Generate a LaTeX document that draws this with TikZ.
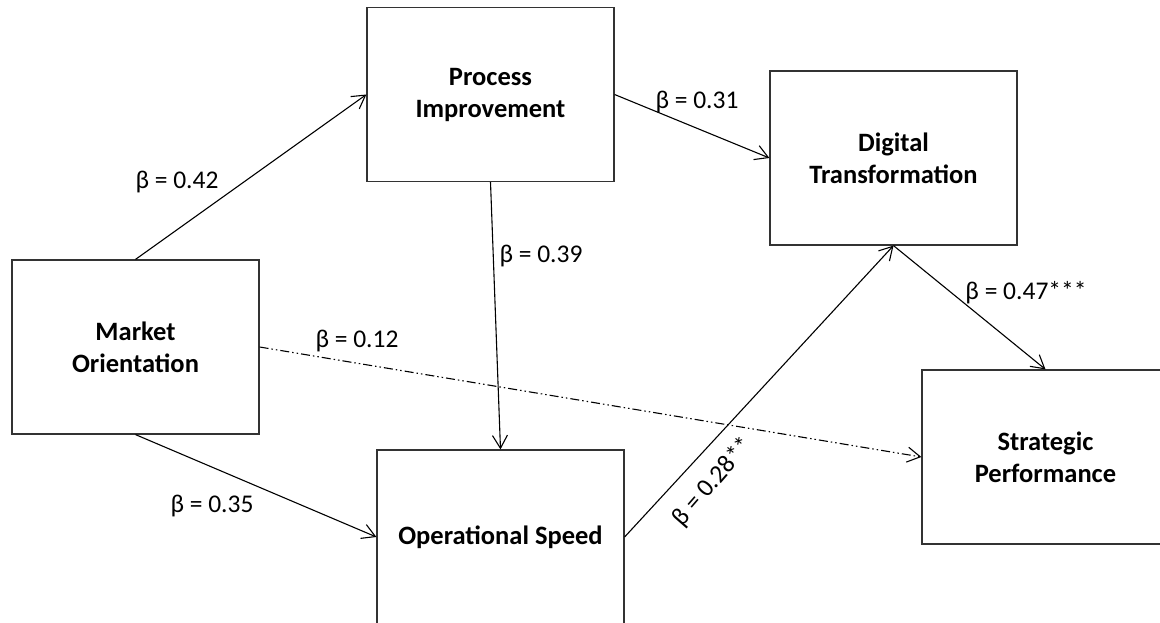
\documentclass[tikz,border=0pt]{standalone}
\usepackage{fontspec}
\setmainfont{Carlito}
\usetikzlibrary{arrows.meta}
\begin{document}
\begin{tikzpicture}[x=1pt,y=-1pt,
  box/.style={draw=black!80, line width=1.2pt, fill=white, minimum width=247pt, minimum height=174pt,
    align=center, font=\fontsize{26.5}{32}\selectfont\bfseries, inner sep=0pt},
  conn/.style={draw=black, line width=1.1pt, -{Straight Barb[length=13pt,width=15pt,line width=1.1pt]}},
  lbl/.style={font=\fontsize{25.5}{30}\selectfont, inner sep=0pt}]
\useasboundingbox (0,0) rectangle (1160,623);
\begin{scope}
\clip (0,0) rectangle (1160,623);
\node[box] (mo) at (135.5,347) {Market\\Orientation};
\node[box] (pi) at (490.5,94.5) {Process\\Improvement};
\node[box] (dt) at (893.5,158) {Digital\\Transformation};
\node[box] (sp) at (1045.5,457) {Strategic\\Performance};
\node[box] (os) at (500.5,537) {Operational Speed};
\end{scope}
\draw[conn] (mo.north) -- (pi.west);
\draw[conn] (pi.east) -- (dt.west);
\draw[conn] (pi.south) -- (os.north);
\draw[conn] (mo.south) -- (os.west);
\draw[conn, dash pattern=on 9pt off 3pt on 1.5pt off 3pt on 1.5pt off 3pt] (mo.east) -- (sp.west);
\draw[conn] (os.east) -- (dt.south);
\draw[conn] (dt.south) -- (sp.north);
\node[lbl] (l42) at (177,182) {β = 0.42};
\node[lbl] (l31) at (697,102) {β = 0.31};
\node[lbl] (l39) at (541,256) {β = 0.39};
\node[lbl] (l35) at (212,506) {β = 0.35};
\node[lbl] (l12) at (357,341) {β = 0.12};
\node[lbl] (l47) at (1026,293) {β = 0.47***};
\node[lbl, rotate=49] (l28) at (713,482) {β = 0.28**};
\end{tikzpicture}
\end{document}
